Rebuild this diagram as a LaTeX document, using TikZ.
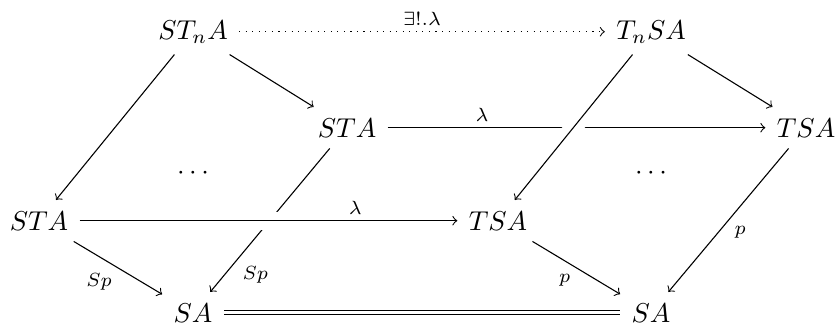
\documentclass[tikz,border=0pt]{standalone}
\usepackage{amssymb}
\begin{document}
\begin{tikzpicture}[>=to, x=0.0129cm, y=-0.0129cm,
    obj/.style={anchor=base, inner sep=4pt},
    lbl/.style={font=\scriptsize, inner sep=2pt},
    crossing/.style={preaction={draw=white, -, line width=6.5pt}}]
    \useasboundingbox (0,0) rectangle (837,326);
    % Faccia superiore
    \node[obj] (stna) at (193,39) {$ST_nA$};
    \node[obj] (tnsa) at (651,39) {$T_nSA$};
    \node[obj] (stam) at (347,137) {$STA$};
    \node[obj] (tsar) at (806,137) {$TSA$};
    % Faccia inferiore
    \node[obj] (stal) at (39,230) {$STA$};
    \node[obj] (tsam) at (498,230) {$TSA$};
    \node[obj] (sal) at (193,322) {$SA$};
    \node[obj] (sar) at (651,322) {$SA$};
    % Puntini
    \node (dotl) at (193,173) {$\cdots$};
    \node (dotr) at (651,173) {$\cdots$};
    % Freccia unica
    \draw[->, dotted] (stna) -- (tnsa) node[midway, above, lbl] {$\exists!.\lambda$};
    % Frecce dall'alto
    \draw[->] (stna) -- (stam);
    \draw[->] (stna) -- (stal);
    \draw[->] (tnsa) -- (tsar);
    \draw[->] (stam) -- (tsar) node[pos=0.25, above, lbl] {$\lambda$};
    \draw[->, crossing] (tnsa) -- (tsam);
    \draw[->] (stam) -- (sal) node[pos=0.78, below right, lbl] {$Sp$};
    \draw[->, crossing] (stal) -- (tsam) node[pos=0.73, above, lbl] {$\lambda$};
    % Frecce verso il basso
    \draw[->] (stal) -- (sal) node[midway, below left, lbl] {$Sp$};
    \draw[->] (tsam) -- (sar) node[midway, below left, lbl] {$p$};
    \draw[->] (tsar) -- (sar) node[midway, below right, lbl] {$p$};
    \draw[double, double distance=1pt] (sal) -- (sar);
\end{tikzpicture}
\end{document}
